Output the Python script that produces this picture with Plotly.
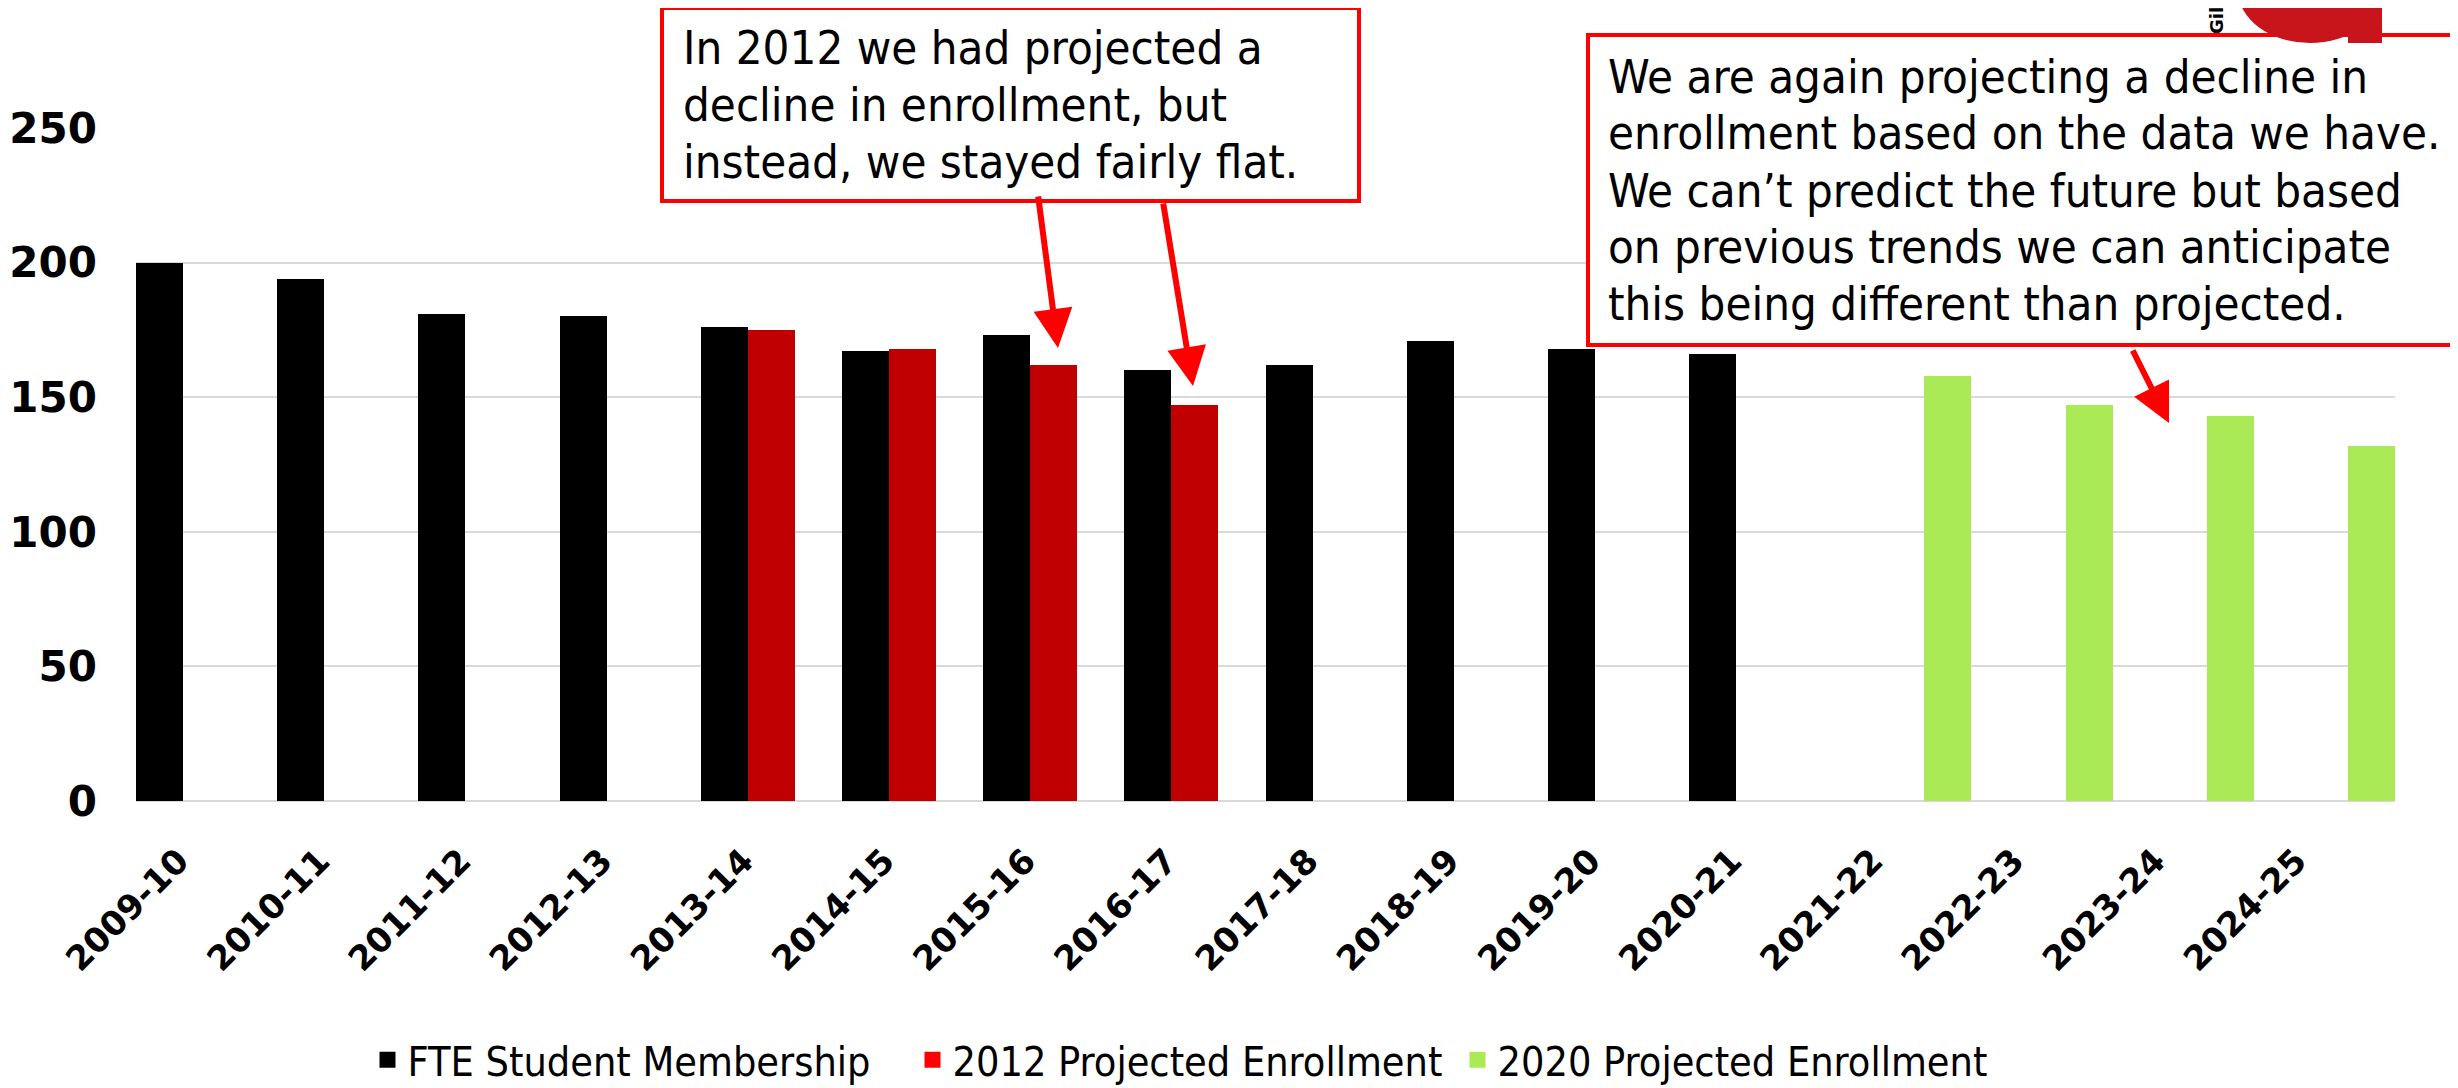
import plotly.graph_objects as go

# ---------------- data ----------------
categories = ["2009-10", "2010-11", "2011-12", "2012-13", "2013-14", "2014-15",
              "2015-16", "2016-17", "2017-18", "2018-19", "2019-20", "2020-21",
              "2021-22", "2022-23", "2023-24", "2024-25"]
fte_membership = [200, 194, 181, 180, 176, 167, 173, 160, 162, 171, 168, 166,
                  None, None, None, None]
projected_2012 = [None, None, None, None, 175, 168, 162, 147,
                  None, None, None, None, None, None, None, None]
projected_2020 = [None, None, None, None, None, None, None, None,
                  None, None, None, None, 158, 147, 143, 132]
series_names = ["FTE Student Membership", "2012 Projected Enrollment", "2020 Projected Enrollment"]
y_tick_values = [0, 50, 100, 150, 200, 250]

note_2012_lines = ["In 2012 we had projected a",
                   "decline in enrollment, but",
                   "instead, we stayed fairly flat."]
note_2020_lines = ["We are again projecting a decline in",
                   "enrollment based on the data we have.",
                   "We can\u2019t predict the future but based",
                   "on previous trends we can anticipate",
                   "this being different than projected."]

# ---------------- layout geometry ----------------
# The page body adds an 8px margin; positions below are given in page pixels.
OFF = 8
W, H = 2458 - OFF, 1088 - OFF
PLOT_L, PLOT_R, PLOT_T, PLOT_B = 136, 2395, 128, 801   # page pixels
ML, MT = PLOT_L - OFF, PLOT_T - OFF
MR, MB = W - (PLOT_R - OFF), H - (PLOT_B - OFF)
PW, PH = PLOT_R - PLOT_L, PLOT_B - PLOT_T


def px(x):
    return (x - PLOT_L) / PW


def py(y):
    return (PLOT_B - y) / PH


BAR_COLORS = ["#000000", "#C00000", "#A9EA56"]
LEGEND_COLORS = ["#000000", "#FF0000", "#A9EA56"]
NARROW = "DejaVu Sans Condensed, Liberation Sans Narrow, DejaVu Sans, sans-serif"
LOGO_RED = "#C8141B"
NOTE_SIZE = 47

fig = go.Figure()
for vals, name, col in zip([fte_membership, projected_2012, projected_2020], series_names, BAR_COLORS):
    fig.add_trace(go.Bar(x=categories, y=vals, name=name, marker=dict(color=col, line=dict(width=0)),
                         showlegend=False))
for name, col in zip(series_names, LEGEND_COLORS):
    fig.add_trace(go.Scatter(x=[None], y=[None], mode="markers", name=name,
                             marker=dict(symbol="square", size=16, color=col)))

shapes = [
    # annotation boxes
    dict(type="rect", xref="paper", yref="paper", x0=px(662), x1=px(1359), y0=py(8), y1=py(201),
         line=dict(color="#FF0000", width=4), fillcolor="white", layer="above"),
    dict(type="rect", xref="paper", yref="paper", x0=px(1588), x1=px(2455), y0=py(35), y1=py(345),
         line=dict(color="#FF0000", width=4), fillcolor="white", layer="above"),
    # partial logo
    dict(type="circle", xref="paper", yref="paper", x0=px(2238), x1=px(2382), y0=py(-63), y1=py(43),
         line=dict(width=0), fillcolor=LOGO_RED, layer="above"),
    dict(type="rect", xref="paper", yref="paper", x0=px(2348), x1=px(2382), y0=py(-5), y1=py(43),
         line=dict(width=0), fillcolor=LOGO_RED, layer="above"),
    dict(type="circle", xref="paper", yref="paper", x0=px(2266), x1=px(2350), y0=py(-23), y1=py(7),
         line=dict(width=0), fillcolor="white", layer="above"),
]

annotations = []
for lines, left, baselines in [(note_2012_lines, 682, [65, 122, 178]),
                               (note_2020_lines, 1607, [93, 150, 207, 263, 320])]:
    for line, base in zip(lines, baselines):
        annotations.append(dict(xref="paper", yref="paper", x=px(left), y=py(base - 17),
                                xanchor="left", yanchor="middle", text=line, showarrow=False,
                                borderpad=0, font=dict(family=NARROW, size=NOTE_SIZE, color="black")))
annotations.append(dict(xref="paper", yref="paper", x=px(2217), y=py(21), xanchor="center", yanchor="middle",
                        text="<b>Gil</b>", textangle=-90, showarrow=False, borderpad=0,
                        font=dict(family="DejaVu Sans", size=18, color="black")))
for (tx, ty), (hx, hy) in [((1038, 195), (1058, 348)),
                           ((1163, 202), (1193, 386)),
                           ((2132, 349), (2169, 423))]:
    annotations.append(dict(xref="paper", yref="paper", x=px(hx), y=py(hy),
                            ax=tx - hx, ay=ty - hy, text="", showarrow=True,
                            arrowcolor="#FF0000", arrowwidth=6, arrowhead=2, arrowsize=1.3))

fig.update_layout(
    width=W, height=H,
    margin=dict(l=ML, r=MR, t=MT, b=MB, autoexpand=False),
    paper_bgcolor="white", plot_bgcolor="white",
    barmode="group", bargap=0, bargroupgap=0,
    font=dict(family="DejaVu Sans", color="black"),
    xaxis=dict(type="category", categoryorder="array", categoryarray=categories,
               tickangle=-45, tickfont=dict(family="DejaVu Sans", size=34, weight="bold", color="black"),
               showgrid=False, showline=False, ticks="", automargin=False,
               ticklabelstandoff=32, ticklabelshift=-28),
    yaxis=dict(range=[0, 250], tickvals=y_tick_values, showgrid=True, gridcolor="#D9D9D9", gridwidth=2,
               zeroline=True, zerolinecolor="#D9D9D9", zerolinewidth=2, showline=False, ticks="",
               tickfont=dict(family="DejaVu Sans", size=42, weight="bold", color="black"),
               ticklabelstandoff=38, automargin=False),
    legend=dict(orientation="h", x=px(1185), xanchor="center", y=py(1060), yanchor="middle",
                font=dict(family=NARROW, size=41, color="black"), traceorder="normal",
                entrywidth=500, entrywidthmode="pixels"),
    shapes=shapes,
    annotations=annotations,
    showlegend=True,
)

fig.write_html("out.html")
